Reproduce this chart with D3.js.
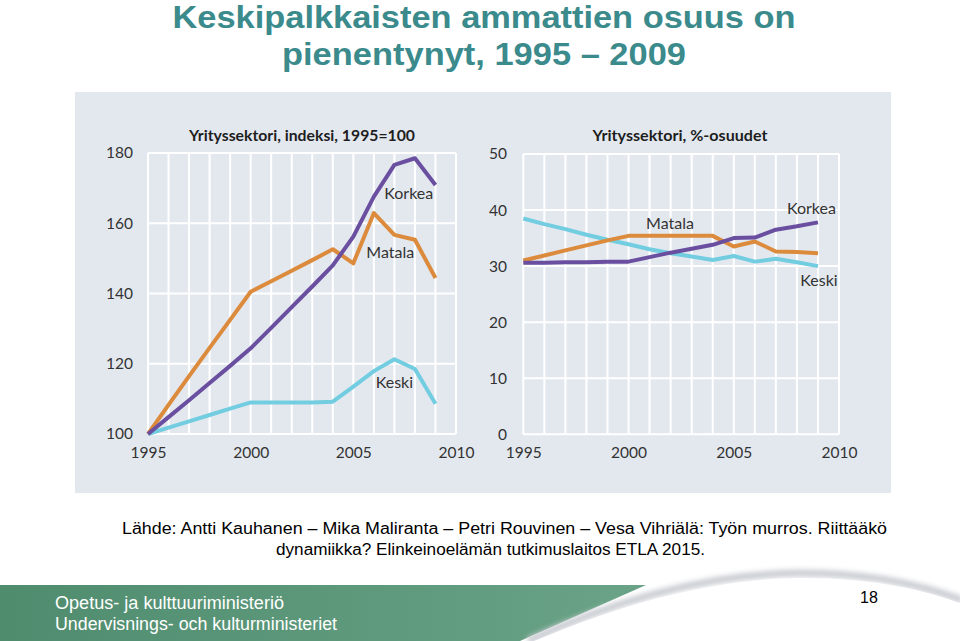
<!DOCTYPE html>
<html><head><meta charset="utf-8">
<script src="https://cdn.jsdelivr.net/npm/d3@7"></script>
<style>
html,body{margin:0;padding:0;background:#fff;}
svg{display:block;}
</style></head>
<body>
<script>
// ---------------- DATA ----------------
const years = [1995,1996,1997,1998,1999,2000,2001,2002,2003,2004,2005,2006,2007,2008,2009];
// Left: index 1995=100
const korkeaIdx = [100,104.8,109.6,114.5,119.4,124.4,130.2,136.1,142.0,148.0,156.2,167.6,176.6,178.5,170.9];
const matalaIdx = [100,108.3,116.5,124.5,132.5,140.5,143.5,146.5,149.5,152.6,148.6,162.9,156.7,155.3,144.4];
const keskiIdx  = [100,101.8,103.6,105.4,107.2,109.0,109.0,109.0,109.0,109.2,113.5,117.9,121.3,118.5,108.6];
// Right: % shares
const korkeaPct = [30.6,30.6,30.7,30.7,30.8,30.8,31.6,32.4,33.1,33.8,35.0,35.1,36.5,37.1,37.8];
const matalaPct = [31.0,31.9,32.8,33.7,34.6,35.4,35.4,35.4,35.4,35.4,33.5,34.4,32.6,32.5,32.3];
const keskiPct  = [38.5,37.5,36.6,35.6,34.7,33.9,33.0,32.3,31.7,31.1,31.8,30.8,31.3,30.7,30.0];

const xTicks = [1995,2000,2005,2010];
const leftYTicks = [100,120,140,160,180];
const rightYTicks = [0,10,20,30,40,50];
const gridYears = d3.range(1995,2011);

const leftTitle = "Yritys"+"sektori, indeksi, 1995=100";
const rightTitle = "Yritys"+"sektori, %-osuudet";

const leftLabels = [
  {name:"Korkea", year:2007.7, value:168.4},
  {name:"Matala", year:2006.8, value:151.6},
  {name:"Keski",  year:2007.0, value:114.6}
];
const rightLabels = [
  {name:"Matala", year:2001.97, value:37.55},
  {name:"Korkea", year:2008.69, value:40.23},
  {name:"Keski",  year:2009.05, value:27.43}
];

const titleLines = ["Keskipalkkaisten ammattien osuus on","pienentynyt, 1995 \u2013 2009"];
const sourceLines = ["L\u00e4hde: Antti Kauhanen \u2013 Mika Maliranta \u2013 Petri Rouvinen \u2013 Vesa Vihri\u00e4l\u00e4: Ty\u00f6n murros. Riitt\u00e4\u00e4k\u00f6",
                     "dynamiikka? Elinkeinoel\u00e4m\u00e4n tutkimuslaitos ETLA 2015."];
const footerLines = ["Opetus- ja kulttuuriministeri\u00f6","Undervisnings- och kulturministeriet"];
const pageNumber = "18";

const colors = {Korkea:"#6a4fa0", Matala:"#dc8b3d", Keski:"#72cde0"};

// ---------------- DRAW ----------------
const W=960,H=641;
const svg = d3.select("body").append("svg").attr("width",W).attr("height",H);

// Title
svg.selectAll("text.title").data(titleLines).join("text")
  .attr("x",484).attr("y",(d,i)=>i===0?28:65)
  .attr("text-anchor","middle")
  .attr("font-family","Liberation Sans, Arial, sans-serif")
  .attr("font-weight","bold").attr("font-size",30.5)
  .attr("textLength",(d,i)=>i===0?623:404).attr("lengthAdjust","spacingAndGlyphs")
  .attr("fill","#3b8a8c")
  .text(d=>d);

// Panel background
svg.append("rect").attr("x",75).attr("y",92).attr("width",816).attr("height",401).attr("fill","#e3e8ef");

const chartFont = "Lato, 'Noto Sans', sans-serif";

function drawChart(opts){
  const g = svg.append("g");
  const x = d3.scaleLinear().domain([1995,2010]).range(opts.xr);
  const y = d3.scaleLinear().domain(opts.yd).range(opts.yr);
  // grid
  g.selectAll("line.v").data(gridYears).join("line")
    .attr("x1",d=>x(d)).attr("x2",d=>x(d)).attr("y1",y(opts.yd[0])).attr("y2",y(opts.yd[1]))
    .attr("stroke","#fff").attr("stroke-width",2);
  g.selectAll("line.h").data(opts.yTicks).join("line")
    .attr("x1",x(1995)).attr("x2",x(2010)).attr("y1",d=>y(d)).attr("y2",d=>y(d))
    .attr("stroke","#fff").attr("stroke-width",2);
  // axes (labels only)
  const ya = g.append("g").attr("transform",`translate(${opts.yLabelX},0)`)
    .call(d3.axisLeft(y).tickValues(opts.yTicks).tickSize(0).tickPadding(0));
  ya.select(".domain").remove();
  ya.selectAll("text").attr("font-family",chartFont).attr("font-size",15.5).attr("fill","#333");
  const xa = g.append("g").attr("transform",`translate(0,${opts.xLabelY})`)
    .call(d3.axisBottom(x).tickValues(xTicks).tickFormat(d3.format("d")).tickSize(0).tickPadding(0));
  xa.select(".domain").remove();
  xa.selectAll("text").attr("font-family",chartFont).attr("font-size",15.5).attr("fill","#333");
  // title
  g.append("text").attr("x",opts.titleX).attr("y",141).attr("text-anchor","middle")
    .attr("font-family",chartFont).attr("font-weight","bold").attr("font-size",15.5)
    .attr("fill","#1e1e1e").attr("textLength",opts.titleLen).attr("lengthAdjust","spacingAndGlyphs")
    .text(opts.title);
  // lines
  const line = d3.line().x((d,i)=>x(years[i])).y(d=>y(d));
  opts.series.forEach(s=>{
    g.append("path").datum(s.values).attr("d",line).attr("fill","none")
      .attr("stroke",colors[s.name]).attr("stroke-width",4).attr("stroke-linejoin","round");
  });
  // labels
  g.selectAll("text.lbl").data(opts.labels).join("text")
    .attr("x",d=>x(d.year)).attr("y",d=>y(d.value)).attr("dy","0.35em")
    .attr("text-anchor","middle").attr("font-family",chartFont).attr("font-size",16)
    .attr("fill","#333").text(d=>d.name);
}

drawChart({
  xr:[148,456], yd:[100,180], yr:[434,153], yTicks:leftYTicks, yLabelX:133, xLabelY:447,
  title:leftTitle, titleX:302, titleLen:226,
  series:[{name:"Keski",values:keskiIdx},{name:"Matala",values:matalaIdx},{name:"Korkea",values:korkeaIdx}],
  labels:leftLabels
});
drawChart({
  xr:[523.3,839], yd:[0,50], yr:[434.3,154], yTicks:rightYTicks, yLabelX:507, xLabelY:447,
  title:rightTitle, titleX:680, titleLen:175,
  series:[{name:"Keski",values:keskiPct},{name:"Matala",values:matalaPct},{name:"Korkea",values:korkeaPct}],
  labels:rightLabels
});

// Source
svg.selectAll("text.src").data(sourceLines).join("text")
  .attr("x",(d,i)=>i===0?504.5:490.5).attr("y",(d,i)=>i===0?534:555)
  .attr("text-anchor","middle").attr("font-family","Liberation Sans, Arial, sans-serif")
  .attr("font-size",16).attr("fill","#000")
  .attr("textLength",(d,i)=>i===0?765:429).attr("lengthAdjust","spacingAndGlyphs")
  .text(d=>d);

// Footer
const defs = svg.append("defs");
const gr = defs.append("linearGradient").attr("id","green").attr("x1","0").attr("x2","1");
gr.append("stop").attr("offset","0").attr("stop-color","#4f8c6e");
gr.append("stop").attr("offset","1").attr("stop-color","#6aa387");
const blur = defs.append("filter").attr("id","blur").attr("x","-5%").attr("y","-50%").attr("width","110%").attr("height","200%");
blur.append("feGaussianBlur").attr("stdDeviation",2.5);

svg.append("path").attr("d","M0,585 L646,585 L520,641 L0,641 Z").attr("fill","url(#green)");
const swoosh = "M528,641 C590,612 690,574 800,573 C880,573 930,588 962,600";
svg.append("path").attr("d",swoosh+" L962,641 Z").attr("fill","#fff");
svg.append("path").attr("d",swoosh).attr("fill","none").attr("stroke","#c9ccd2").attr("stroke-width",7).attr("filter","url(#blur)");
svg.append("path").attr("d","M534,641 C596,615 694,579 800,578 C880,578 930,592 962,604 L962,641 Z").attr("fill","#fff");

svg.selectAll("text.foot").data(footerLines).join("text")
  .attr("x",55).attr("y",(d,i)=>i===0?609:630)
  .attr("font-family","Liberation Sans, Arial, sans-serif").attr("font-size",18).attr("fill","#fff")
  .attr("textLength",(d,i)=>i===0?229:282).attr("lengthAdjust","spacingAndGlyphs")
  .text(d=>d);

svg.append("text").attr("x",869).attr("y",603).attr("text-anchor","middle")
  .attr("font-family","Liberation Sans, Arial, sans-serif").attr("font-size",16).attr("fill","#000")
  .text(pageNumber);
</script>
</body></html>
